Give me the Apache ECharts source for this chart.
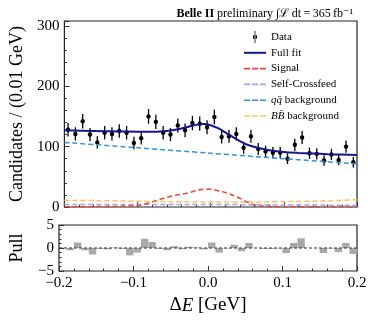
<!DOCTYPE html>
<html><head><meta charset="utf-8">
<script src="https://cdn.jsdelivr.net/npm/echarts@6/dist/echarts.min.js"></script>
<style>html,body{margin:0;padding:0;background:#fff}#c{width:373px;height:321px}</style>
</head><body><div id="c"></div>
<script>
// ---- data ----
const binWidth = 0.01;
const xMin = -0.2, xMax = 0.2;
const binCenters = [-0.195,-0.185,-0.175,-0.165,-0.155,-0.145,-0.135,-0.125,-0.115,-0.105,
  -0.095,-0.085,-0.075,-0.065,-0.055,-0.045,-0.035,-0.025,-0.015,-0.005,
  0.005,0.015,0.025,0.035,0.045,0.055,0.065,0.075,0.085,0.095,
  0.105,0.115,0.125,0.135,0.145,0.155,0.165,0.175,0.185,0.195];
const dataCounts = [128,121,142,120,107,123,121,126,123,106,
  114,150,141,123,120,135,127,139,138,132,
  149,116,117,121,98,117,96,92,90,90,
  80,103,115,89,88,77,87,78,100,74];
const dataErrors = [11.3,11.0,11.9,11.0,10.3,11.1,11.0,11.2,11.1,10.3,
  10.7,12.2,11.9,11.1,11.0,11.6,11.3,11.8,11.7,11.5,
  12.2,10.8,10.8,11.0,9.9,10.8,9.8,9.6,9.5,9.5,
  8.9,10.1,10.7,9.4,9.4,8.8,9.3,8.8,10.0,8.6];
const pullValues = [0.1,-0.5,1.2,-0.5,-1.4,-0.2,-0.3,0.1,-0.2,-1.6,
  -1.0,2.0,1.3,-0.2,-0.5,0.4,-0.3,0.3,0.1,-0.3,
  1.2,-1.0,-0.1,0.7,-0.7,1.1,0.0,-0.2,-0.2,-0.1,
  -1.1,1.1,2.1,0.0,0.0,-1.1,-0.1,-0.9,1.1,-1.3];

const fitX = [-0.2,-0.16,-0.12,-0.09,-0.07,-0.05,-0.04,-0.03,-0.02,-0.01,0,0.01,0.02,0.03,0.04,0.05,0.06,0.07,0.08,0.1,0.12,0.14,0.16,0.18,0.2];
const fitY = [127,126,125,124.5,125,127.5,130,133,136,137.5,135.5,130.5,123.5,116,109,103,99.5,96.5,94,91,89.5,88.5,87.5,86.8,86];
const sigX = [-0.2,-0.14,-0.12,-0.1,-0.09,-0.08,-0.07,-0.06,-0.05,-0.04,-0.03,-0.02,-0.01,0,0.01,0.02,0.03,0.04,0.05,0.06,0.07,0.08,0.1,0.14,0.2];
const sigY = [0.3,0.8,1.3,2.5,5,8.5,12.5,16,19,21,23.5,27,29.5,29.5,27,24,19.5,14.5,8,3.5,1.5,0.7,0.2,0,0];
const scfX = [-0.2,-0.1,0,0.05,0.1,0.2];
const scfY = [4.3,4.3,4.3,3.8,3.3,3.0];
const qqX = [-0.2,-0.1,0,0.1,0.2];
const qqY = [107,98,89,80,71.5];
const bbX = [-0.2,-0.15,-0.1,-0.05,0,0.05,0.1,0.15,0.2];
const bbY = [11,10.5,9.5,8.8,8.3,8.3,8.8,10,12];

const xTickLabels = ['\u22120.2','\u22120.1','0.0','0.1','0.2'];

// ---- chart ----
const FONT = "'Liberation Serif','DejaVu Serif',serif";
const zip = (a,b)=>a.map((v,i)=>[v,b[i]]);
const chart = echarts.init(document.getElementById('c'), null, {renderer:'canvas'});

function xFmt(v){
  const idx = Math.round((v - xMin) / 0.1);
  return xTickLabels[idx] !== undefined ? xTickLabels[idx] : '';
}

const DASH_ICON = 'path://M0,0h6v1.6h-6z M8,0h6v1.6h-6z M16,0h6v1.6h-6z';
const SOLID_ICON = 'path://M0,0h22v2h-22z';
const TICK = {show:true, inside:true, length:5, lineStyle:{color:'#333'}};
const MINOR = {show:true, splitNumber:5, length:2.5, lineStyle:{color:'#333'}};
const NOLINE = {show:false, onZero:false};

const dashed = (name, color, xs, ys) => ({
  name, type:'line', xAxisIndex:0, yAxisIndex:0, data: zip(xs, ys),
  showSymbol:false, symbol:'none', smooth:0.3, silent:true,
  lineStyle:{color, width:1.5, type:[5,3]}, itemStyle:{color}
});

const option = {
  animation:false,
  backgroundColor:'#fff',
  title:{
    text:'{b|Belle II} preliminary {m|\u222B\u2112\u2009dt\u2009=\u2009365\u2009fb\u207B\u00B9}',
    right:15, top:3,
    textStyle:{fontFamily:FONT, fontSize:12, fontWeight:'normal', color:'#000',
      rich:{b:{fontFamily:FONT,fontSize:12,fontWeight:'bold',color:'#000'},
            m:{fontFamily:FONT,fontSize:12,color:'#000'}}}
  },
  grid:[
    {left:53, top:21, width:304, height:186, show:true, borderColor:'#222', borderWidth:1.2, backgroundColor:'transparent'},
    {left:53, top:225, width:304, height:46, show:true, borderColor:'#222', borderWidth:1.2, backgroundColor:'transparent'}
  ],
  legend:{
    orient:'vertical', left:239, top:26, itemWidth:22, itemHeight:12, itemGap:3.8,
    textStyle:{fontFamily:FONT, fontSize:11, color:'#000', lineHeight:12,
      rich:{i:{fontFamily:FONT, fontSize:11, fontStyle:'italic', color:'#000'}}},
    formatter:function(n){
      if(n.indexOf('q\u0304')>=0) return '{i|qq\u0304} background';
      if(n.indexOf('B\u0304')>=0) return '{i|BB\u0304} background';
      return n;
    },
    data:[
      {name:'Data', icon:'path://M4.6,0h0.8v12h-0.8z M5,3.8a2.2,2.2 0 1,0 0.001,0z'},
      {name:'Full fit', icon:SOLID_ICON},
      {name:'Signal', icon:DASH_ICON},
      {name:'Self-Crossfeed', icon:DASH_ICON},
      {name:'qq\u0304 background', icon:DASH_ICON},
      {name:'BB\u0304 background', icon:DASH_ICON}
    ]
  },
  xAxis:[
    {gridIndex:0, type:'value', min:xMin, max:xMax, interval:0.1,
     axisLine:NOLINE, splitLine:{show:false}, axisTick:TICK, minorTick:MINOR,
     axisLabel:{show:false}},
    {gridIndex:1, type:'value', min:xMin, max:xMax, interval:0.1,
     axisLine:NOLINE, splitLine:{show:false}, axisTick:TICK, minorTick:MINOR,
     axisLabel:{show:true, formatter:xFmt, fontFamily:FONT, fontSize:15, color:'#000', margin:5},
     name:'{d|\u0394}{i|E} [GeV]', nameLocation:'middle', nameGap:25,
     nameTextStyle:{fontFamily:FONT, fontSize:19, color:'#000',
       rich:{d:{fontFamily:FONT,fontSize:19,color:'#000'}, i:{fontFamily:FONT,fontSize:19,fontStyle:'italic',color:'#000'}}}}
  ],
  yAxis:[
    {gridIndex:0, type:'value', min:0, max:308, interval:100,
     axisLine:NOLINE, splitLine:{show:false}, axisTick:TICK,
     axisLabel:{formatter:v=> (v%100===0? String(v):''), fontFamily:FONT, fontSize:15, color:'#000', margin:5},
     name:'Candidates / (0.01 GeV)', nameLocation:'middle', nameGap:33, nameRotate:90,
     nameTextStyle:{fontFamily:FONT, fontSize:18, color:'#000'}},
    {gridIndex:0, type:'value', min:0, max:308, interval:20, position:'left', offset:0,
     axisLine:NOLINE, splitLine:{show:false}, axisLabel:{show:false},
     axisTick:{show:true, inside:true, length:2.5, lineStyle:{color:'#333'}}},
    {gridIndex:1, type:'value', min:-5, max:5, interval:5,
     axisLine:NOLINE, splitLine:{show:false}, axisTick:TICK, minorTick:MINOR,
     axisLabel:{formatter:v=> String(v).replace('-','\u2212'), fontFamily:FONT, fontSize:15, color:'#000', margin:5},
     name:'Pull', nameLocation:'middle', nameGap:33, nameRotate:90,
     nameTextStyle:{fontFamily:FONT, fontSize:18, color:'#000'}}
  ],
  series:[
    dashed('BB\u0304 background', '#fdc36a', bbX, bbY),
    dashed('qq\u0304 background', '#3a90d2', qqX, qqY),
    dashed('Self-Crossfeed', '#ab9fe6', scfX, scfY),
    dashed('Signal', '#e8473a', sigX, sigY),
    {name:'Full fit', type:'line', xAxisIndex:0, yAxisIndex:0, data:zip(fitX, fitY),
     showSymbol:false, symbol:'none', smooth:0.3, silent:true,
     lineStyle:{color:'#15168a', width:2}, itemStyle:{color:'#15168a'}},
    {name:'Data', type:'custom', xAxisIndex:0, yAxisIndex:0,
     data: binCenters.map((x,i)=>[x, dataCounts[i], dataErrors[i]]),
     encode:{x:0, y:1},
     itemStyle:{color:'#000'},
     renderItem:function(params, api){
       const x = api.value(0), y = api.value(1), e = api.value(2);
       const lo = api.coord([x, y - e]), hi = api.coord([x, y + e]), c = api.coord([x, y]);
       return {type:'group', children:[
         {type:'line', shape:{x1:lo[0], y1:lo[1], x2:hi[0], y2:hi[1]}, style:{stroke:'#000', lineWidth:1.3}},
         {type:'circle', shape:{cx:c[0], cy:c[1], r:2.2}, style:{fill:'#000'}}
       ]};
     }},
    {name:'PullBars', type:'custom', xAxisIndex:1, yAxisIndex:2,
     data: binCenters.map((x,i)=>[x, pullValues[i]]),
     encode:{x:0, y:1},
     renderItem:function(params, api){
       const x = api.value(0), v = api.value(1);
       const a = api.coord([x - binWidth/2, 0]), b = api.coord([x + binWidth/2, v]);
       return {type:'rect', shape:{x:Math.min(a[0],b[0]), y:Math.min(a[1],b[1]),
         width:Math.abs(b[0]-a[0]), height:Math.abs(b[1]-a[1])}, style:{fill:'#a9a9a9'}};
     }},
    {name:'PullZero', type:'line', xAxisIndex:1, yAxisIndex:2, data:[[xMin,0],[xMax,0]],
     showSymbol:false, symbol:'none', silent:true,
     lineStyle:{color:'#333', width:1, type:[3,2]}}
  ]
};
chart.setOption(option);
</script></body></html>
